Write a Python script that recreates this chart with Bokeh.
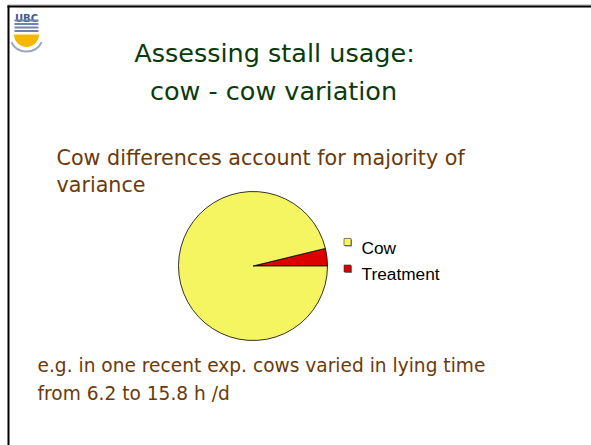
import math
from bokeh.plotting import figure
from bokeh.models import Range1d, ColumnDataSource
from bokeh.core.properties import value
from bokeh.embed import file_html
from bokeh.resources import INLINE

# ---- data ----
categories = ["Cow", "Treatment"]
shares = [96.2, 3.8]
colors = ["#F5F562", "#DD0000"]

title_lines = ["Assessing stall usage:", "cow - cow variation"]
intro_lines = ["Cow differences account for majority of", "variance"]
note_lines = ["e.g. in one recent exp. cows varied in lying time", "from 6.2 to 15.8 h /d"]

W, H = 591, 445


def Y(sy):
    return H - sy


p = figure(width=W, height=H, output_backend="svg", toolbar_location=None,
           x_range=Range1d(0, W), y_range=Range1d(0, H),
           min_border=0, outline_line_color=None)
p.xaxis.visible = False
p.yaxis.visible = False
p.grid.visible = False
p.background_fill_color = "white"
p.border_fill_color = "white"

# ---- slide frame ----
p.line([7, W + 5], [Y(4.5), Y(4.5)], line_color="#AAAAAA", line_width=1)
p.line([7, W + 5], [Y(6), Y(6)], line_color="black", line_width=2)
p.line([8, 8], [Y(5), Y(H + 5)], line_color="black", line_width=2)

# ---- logo (approximation) ----
p.text([26], [Y(17.5)], text=["UBC"], text_font=value("DejaVu Sans"), text_font_size="10px",
       text_color="#3A5A9A", text_align="center", text_baseline="alphabetic", text_font_style="bold")
for yy in [20, 23.5, 27, 30.5]:
    p.line([14, 38], [Y(yy), Y(yy)], line_color="#6E82B4", line_width=2)
p.wedge(x=[26], y=[Y(34)], radius=12.5, radius_units="screen", start_angle=math.pi, end_angle=2 * math.pi,
        fill_color="#F5B800", line_color=None)
p.arc(x=[26], y=[Y(34)], radius=17, radius_units="screen", start_angle=math.pi * 1.15, end_angle=math.pi * 1.85,
      line_color="#9AA6C4", line_width=2)

# ---- title ----
p.text([274, 273], [Y(52), Y(90)], text=title_lines, text_font=value("DejaVu Sans"),
       text_font_size="25.5px", text_color="#0B3A0B", text_align="center", text_baseline="alphabetic")

# ---- intro text ----
p.text([56, 56], [Y(157), Y(184)], text=intro_lines, text_font=value("DejaVu Sans"),
       text_font_size="20.7px", text_color="#6B3A0A", text_align="left", text_baseline="alphabetic")

# ---- pie ----
cx, cy, r = 252.5, 265.5, 74.5
total = sum(shares)
order = [1, 0]
starts, ends, cols = [], [], []
acc = 0.0
for i in order:
    a0 = acc
    acc += shares[i] / total * 2 * math.pi
    starts.append(a0)
    ends.append(acc)
    cols.append(colors[i])
src = ColumnDataSource(dict(x=[cx] * 2, y=[Y(cy)] * 2, start=starts, end=ends, color=cols))
p.wedge(x="x", y="y", radius=r, radius_units="screen", start_angle="start", end_angle="end",
        fill_color="color", line_color="black", line_width=0.8, source=src)

# ---- legend (manual) ----
lx = 347
ly = [241.5, 268]
p.scatter([lx + 1] * 2, [Y(v + 1) for v in ly], marker="square", size=7, fill_color="#888888",
          line_color=None)
p.scatter([lx] * 2, [Y(v) for v in ly], marker="square", size=7, fill_color=colors,
          line_color="#333333", line_width=0.6)
p.text([361] * 2, [Y(247), Y(273)], text=categories, text_font=value("Liberation Sans"),
       text_font_size="17.3px", text_color="black", text_align="left", text_baseline="alphabetic")

# ---- note text ----
p.text([37, 37], [Y(365), Y(393)], text=note_lines, text_font=value("DejaVu Sans"),
       text_font_size="18.6px", text_color="#6B3A0A", text_align="left", text_baseline="alphabetic")

open("out.html", "w").write(file_html(p, INLINE))
